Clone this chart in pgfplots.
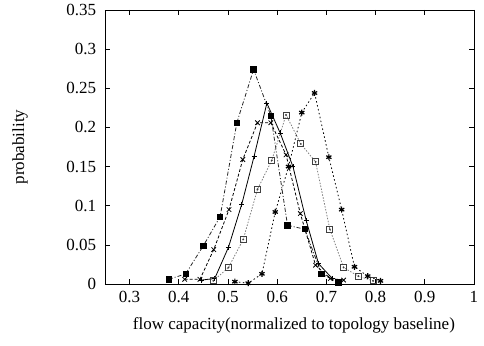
\documentclass[border=0pt]{standalone}
\usepackage{fontspec}
\setmainfont{Liberation Serif}
\usepackage{pgfplots}
\pgfplotsset{compat=1.18}
\pgfdeclareplotmark{sqdot}{%
  \pgfpathrectangle{\pgfpoint{-\pgfplotmarksize}{-\pgfplotmarksize}}{\pgfpoint{2\pgfplotmarksize}{2\pgfplotmarksize}}%
  \pgfusepathqstroke
  \pgfpathcircle{\pgfpointorigin}{0.35\pgfplotmarksize}\pgfusepathqfill}
\begin{document}
\fontsize{17}{20}\selectfont
\begin{tikzpicture}[font=\fontsize{17}{20}\selectfont]
\begin{axis}[name=ax, scale only axis, width=369pt, height=274pt,
  xmin=0.25, xmax=1, ymin=0, ymax=0.35,
  scaled ticks=false,
  xtick={0.3,0.4,0.5,0.6,0.7,0.8,0.9,1},
  xticklabels={0.3,0.4,0.5,0.6,0.7,0.8,0.9,1},
  ytick={0,0.05,0.1,0.15,0.2,0.25,0.3,0.35},
  yticklabels={0,0.05,0.1,0.15,0.2,0.25,0.3,0.35},
  yticklabel style={xshift=-3pt},
  xticklabel style={yshift=-1pt},
  tick align=inside, major tick length=5pt,
  tick style={black, line width=0.6pt},
  axis line style={line width=0.8pt},
  xlabel={flow capacity(normalized to topology baseline)},
  ylabel={probability},
  xlabel style={at={(axis description cs:0.512,-0.15)}, anchor=center},
  ylabel style={at={(axis description cs:-0.230,0.5)}, anchor=center},
  every axis plot/.append style={line width=0.8pt},
  clip=false]
% filled squares, dash-dot
\addplot[black!85, dash pattern=on 4pt off 2pt on 1pt off 2pt, mark=square*, mark size=2.7pt, mark options={solid, black}] coordinates {
(0.380,0.006) (0.414,0.013) (0.450,0.049) (0.484,0.086) (0.518,0.206) (0.552,0.274) (0.587,0.215) (0.621,0.075) (0.656,0.070) (0.690,0.013) (0.724,0.002)};
% crosses, dashed
\addplot[black, dash pattern=on 3pt off 2pt, mark=x, mark size=3.2pt, mark options={solid}] coordinates {
(0.412,0.006) (0.443,0.006) (0.471,0.044) (0.502,0.095) (0.530,0.159) (0.560,0.206) (0.587,0.206) (0.618,0.165) (0.647,0.090) (0.678,0.024) (0.708,0.007) (0.735,0.005)};
% plus, solid
\addplot[black, solid, mark=+, mark size=2.5pt] coordinates {
(0.446,0.005) (0.473,0.007) (0.501,0.047) (0.528,0.102) (0.553,0.163) (0.579,0.231) (0.606,0.193) (0.632,0.150) (0.659,0.081) (0.684,0.026) (0.712,0.007)};
% open squares, gray dotted
\addplot[gray, dash pattern=on 1.5pt off 1.5pt, mark=sqdot, mark size=3pt, mark options={solid, black!75}] coordinates {
(0.470,0.004) (0.501,0.021) (0.531,0.057) (0.560,0.121) (0.589,0.158) (0.618,0.216) (0.648,0.179) (0.678,0.156) (0.707,0.070) (0.735,0.021) (0.765,0.010) (0.795,0.004)};
% stars, dark dotted
\addplot[black, dash pattern=on 1.5pt off 2.5pt, mark=asterisk, mark size=3pt, mark options={solid, line width=1.2pt}] coordinates {
(0.514,0.003) (0.541,0.001) (0.569,0.013) (0.596,0.092) (0.623,0.150) (0.650,0.219) (0.676,0.244) (0.705,0.162) (0.731,0.095) (0.757,0.022) (0.784,0.010) (0.810,0.004)};
\end{axis}
\pgfresetboundingbox
\path (ax.south west) ++(-105pt,-61pt) rectangle ++(484pt,345pt);
\end{tikzpicture}
\end{document}
